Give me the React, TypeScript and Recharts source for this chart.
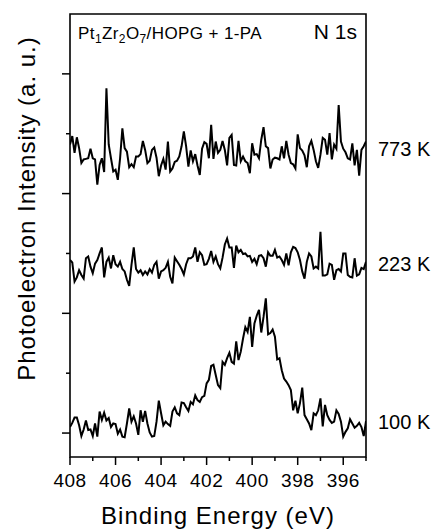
import { LineChart, Line, XAxis, YAxis, ReferenceArea, ReferenceDot } from 'recharts';

// binding energy grid (eV)
const energy = [
  408.0, 407.9, 407.8, 407.7, 407.6, 407.5, 407.4, 407.3, 407.2, 407.1,
  407.0, 406.9, 406.8, 406.7, 406.6, 406.5, 406.4, 406.3, 406.2, 406.1,
  406.0, 405.9, 405.8, 405.7, 405.6, 405.5, 405.4, 405.3, 405.2, 405.1,
  405.0, 404.9, 404.8, 404.7, 404.6, 404.5, 404.4, 404.3, 404.2, 404.1,
  404.0, 403.9, 403.8, 403.7, 403.6, 403.5, 403.4, 403.3, 403.2, 403.1,
  403.0, 402.9, 402.8, 402.7, 402.6, 402.5, 402.4, 402.3, 402.2, 402.1,
  402.0, 401.9, 401.8, 401.7, 401.6, 401.5, 401.4, 401.3, 401.2, 401.1,
  401.0, 400.9, 400.8, 400.7, 400.6, 400.5, 400.4, 400.3, 400.2, 400.1,
  400.0, 399.9, 399.8, 399.7, 399.6, 399.5, 399.4, 399.3, 399.2, 399.1,
  399.0, 398.9, 398.8, 398.7, 398.6, 398.5, 398.4, 398.3, 398.2, 398.1,
  398.0, 397.9, 397.8, 397.7, 397.6, 397.5, 397.4, 397.3, 397.2, 397.1,
  397.0, 396.9, 396.8, 396.7, 396.6, 396.5, 396.4, 396.3, 396.2, 396.1,
  396.0, 395.9, 395.8, 395.7, 395.6, 395.5, 395.4, 395.3, 395.2, 395.1,
  395.0,
];

// intensities (a.u., offset stacked)
const k773 = [
  482, 496, 468, 494, 476, 451, 457, 458, 459, 475,
  459, 457, 415, 448, 459, 436, 576, 482, 459, 437,
  440, 423, 459, 509, 476, 470, 444, 449, 444, 462,
  462, 466, 488, 473, 451, 455, 473, 477, 460, 429,
  447, 458, 440, 487, 437, 442, 453, 455, 462, 479,
  504, 479, 445, 472, 454, 466, 447, 431, 475, 486,
  483, 459, 515, 458, 487, 468, 473, 488, 473, 447,
  493, 498, 448, 447, 488, 454, 462, 454, 451, 434,
  484, 465, 466, 459, 490, 511, 479, 476, 442, 457,
  460, 459, 457, 479, 459, 488, 465, 451, 449, 442,
  499, 476, 472, 464, 444, 479, 488, 473, 454, 443,
  465, 493, 490, 465, 501, 457, 482, 475, 548, 487,
  475, 469, 459, 457, 484, 447, 473, 430, 473, 479,
  487,
];

const k223 = [
  289, 285, 253, 260, 272, 264, 258, 292, 295, 278,
  267, 283, 289, 300, 310, 260, 286, 293, 275, 297,
  282, 278, 286, 274, 270, 256, 246, 281, 310, 274,
  268, 272, 264, 270, 265, 274, 268, 281, 286, 258,
  270, 272, 276, 286, 261, 250, 293, 287, 281, 274,
  265, 282, 292, 292, 295, 310, 286, 302, 297, 281,
  282, 291, 304, 286, 295, 282, 275, 293, 315, 325,
  310, 310, 276, 313, 302, 306, 299, 300, 295, 296,
  286, 291, 282, 296, 297, 292, 278, 302, 296, 296,
  306, 293, 295, 289, 281, 300, 280, 302, 311, 309,
  302, 289, 270, 258, 286, 300, 295, 275, 278, 275,
  336, 263, 263, 265, 283, 281, 256, 272, 274, 270,
  300, 300, 264, 261, 260, 292, 263, 265, 276, 274,
  286,
];

const k100 = [
  10, 17, 26, 26, 13, -5, 6, 21, 5, 6,
  -5, 16, -6, 36, 22, 34, 21, 25, 10, 16,
  15, -1, 6, -6, -7, 16, 41, 19, 28, 16,
  -3, 38, 19, 37, 16, 1, -6, -5, 19, 54,
  33, 13, 19, 15, 12, 36, 43, 33, 30, 51,
  50, 43, 37, 52, 48, 63, 55, 52, 60, 62,
  83, 89, 112, 114, 97, 80, 75, 119, 114, 125,
  134, 119, 116, 153, 122, 136, 158, 177, 169, 194,
  144, 183, 196, 206, 168, 194, 225, 165, 167, 173,
  161, 123, 125, 105, 91, 86, 80, 72, 38, 54,
  33, 50, 76, 30, 23, 16, 5, 33, 30, 38,
  58, 11, 47, 30, 22, 17, 19, 38, 32, 19,
  -6, 2, 8, 23, 16, 9, 12, 17, 10, -5,
  20,
];

const xTicks = [408, 407, 406, 405, 404, 403, 402, 401, 400, 399, 398, 397, 396, 395];
const yTicks = [0, 100, 200, 300, 400, 500, 600];
const tempLabels = [
  { name: '773 K', y: 474 },
  { name: '223 K', y: 282 },
  { name: '100 K', y: 18 },
];

const data = energy.map((e, i) => ({ e, k773: k773[i], k223: k223[i], k100: k100[i] }));

const FONT = '"Liberation Sans", Arial, Helvetica, sans-serif';

function XTick(props: any) {
  const { x, y, payload } = props;
  const major = payload.value % 2 === 0;
  return (
    <g>
      <line x1={x} y1={y} x2={x} y2={y + (major ? 8 : 4)} stroke="#000" strokeWidth={1.5} />
      {major && (
        <text x={x} y={y + 30} textAnchor="middle" fontSize={19} letterSpacing={0.5} fontFamily={FONT} fill="#000">
          {payload.value}
        </text>
      )}
    </g>
  );
}

function YTick(props: any) {
  const { x, y, payload } = props;
  const major = payload.value % 200 === 0;
  return <line x1={x - (major ? 8 : 4)} y1={y} x2={x} y2={y} stroke="#000" strokeWidth={1.5} />;
}

const xLabel = (p: any) => {
  const vb = p.viewBox;
  return (
    <text x={vb.x + vb.width / 2} y={vb.y + 67} textAnchor="middle" fontSize={24} letterSpacing={1} fontFamily={FONT} fill="#000">
      Binding Energy (eV)
    </text>
  );
};

const yLabel = (p: any) => {
  const vb = p.viewBox;
  const cx = vb.x + 26;
  const cy = vb.y + vb.height / 2 - 27;
  return (
    <text x={cx} y={cy} transform={`rotate(-90, ${cx}, ${cy})`} textAnchor="middle" dominantBaseline="central" fontSize={24} letterSpacing={1} fontFamily={FONT} fill="#000">
      Photoelectron Intensity (a. u.)
    </text>
  );
};

const titles = (p: any) => {
  const vb = p.viewBox;
  return (
    <g fontFamily={FONT} fill="#000">
      <text x={vb.x + 8} y={vb.y + 25} fontSize={17} letterSpacing={0.4}>
        Pt<tspan fontSize={12} dy={4}>1</tspan>
        <tspan dy={-4}>Zr</tspan>
        <tspan fontSize={12} dy={4}>2</tspan>
        <tspan dy={-4}>O</tspan>
        <tspan fontSize={12} dy={4}>7</tspan>
        <tspan dy={-4}>/HOPG + 1-PA</tspan>
      </text>
      <text x={vb.x + vb.width - 9} y={vb.y + 25} fontSize={21} textAnchor="end">
        N 1s
      </text>
    </g>
  );
};

export default function App() {
  return (
    <div style={{ position: 'absolute', left: 0, top: 0 }}>
      <LineChart width={435} height={530} data={data} margin={{ top: 14, right: 69, bottom: 0, left: 0 }}>
        <XAxis
          dataKey="e"
          type="number"
          domain={[395, 408]}
          reversed
          allowDataOverflow
          ticks={xTicks}
          interval={0}
          tickSize={0}
          tickMargin={0}
          tickLine={false}
          axisLine={false}
          tick={<XTick />}
          height={73}
          label={xLabel}
        />
        <YAxis
          type="number"
          domain={[-40, 700]}
          allowDataOverflow
          ticks={yTicks}
          interval={0}
          tickSize={0}
          tickMargin={0}
          tickLine={false}
          axisLine={false}
          tick={<YTick />}
          width={70}
          label={yLabel}
        />
        <ReferenceArea x1={408} x2={395} y1={-40} y2={700} fill="none" fillOpacity={0} stroke="#000" strokeWidth={1.6} label={titles} />
        <Line dataKey="k773" stroke="#000" strokeWidth={2} dot={false} isAnimationActive={false} />
        <Line dataKey="k223" stroke="#000" strokeWidth={2} dot={false} isAnimationActive={false} />
        <Line dataKey="k100" stroke="#000" strokeWidth={2} dot={false} isAnimationActive={false} />
        {tempLabels.map((t) => (
          <ReferenceDot
            key={t.name}
            x={395}
            y={t.y}
            r={0}
            fill="none"
            stroke="none"
            ifOverflow="visible"
            label={{ value: t.name, position: 'right', offset: 12, fontSize: 20, fill: '#000', fontFamily: FONT }}
          />
        ))}
      </LineChart>
    </div>
  );
}
